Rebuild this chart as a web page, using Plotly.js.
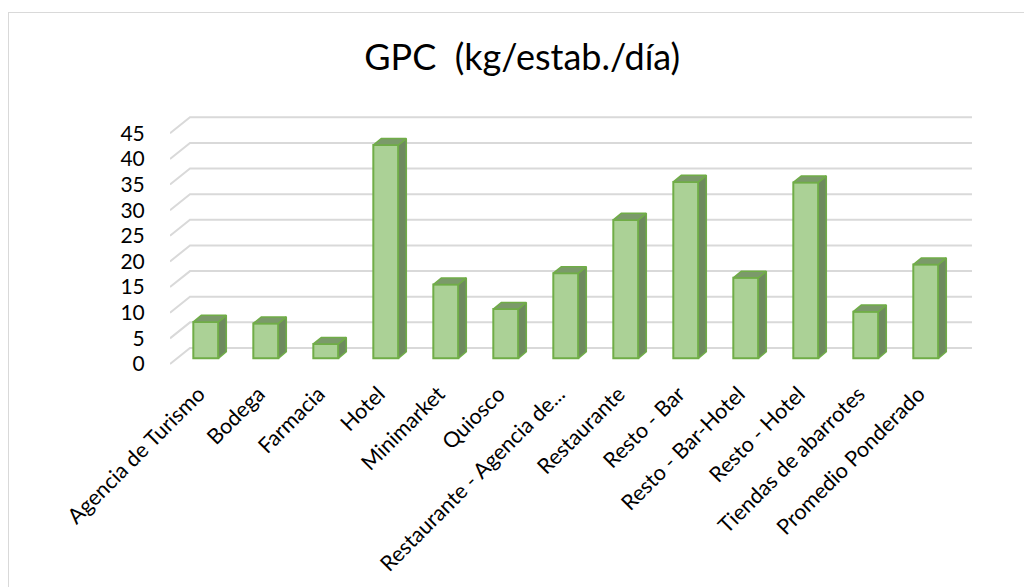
<!DOCTYPE html>
<html>
<head>
<meta charset="utf-8">
<script src="https://cdn.plot.ly/plotly-3.0.1.min.js"></script>
<style>
  html, body { margin: 0; padding: 0; background: #fff; }
  #chart { width: 1024px; height: 587px; }
  #frame { position: absolute; left: 8px; top: 12px; width: 1100px; height: 700px;
           border-left: 1.5px solid #d9d9d9; border-top: 1.5px solid #d9d9d9; pointer-events: none; }
</style>
</head>
<body>
<div id="chart"></div>
<div id="frame"></div>
<script>
// ---- data ----
const categories = [
  "Agencia de Turismo", "Bodega", "Farmacia", "Hotel", "Minimarket", "Quiosco",
  "Restaurante - Agencia de...", "Restaurante", "Resto - Bar", "Resto - Bar-Hotel",
  "Resto - Hotel", "Tiendas de abarrotes", "Promedio Ponderado"
];
const gpcValues = [7.1, 6.8, 2.8, 41.6, 14.4, 9.6, 16.6, 27.0, 34.4, 15.7, 34.3, 9.1, 18.3];
const yTickValues = [0, 5, 10, 15, 20, 25, 30, 35, 40, 45];
const titleText = "GPC\u00a0 (kg/estab./día)";

// ---- pseudo-3D geometry (axis units) ----
const wallDX = 0.3333, wallDY = 3.12;      // depth of floor / side wall
const floorLeft = -0.478, floorRight = 12.555;
const barShift = 0.119, barHalf = 0.2083, barBase = 1.11;
const barDX = 0.1333, barDY = 1.28;

const idx = categories.map((_, i) => i);

// gridlines on side + back wall
const shapes = yTickValues.map(v => ({
  type: 'path', xref: 'x', yref: 'y', layer: 'below',
  path: `M ${floorLeft},${v} L ${floorLeft + wallDX},${v + wallDY} L ${floorRight + wallDX},${v + wallDY}`,
  line: { color: '#d9d9d9', width: 2 }
}));

// top and side faces of the columns
const topX = [], topY = [], sideX = [], sideY = [];
gpcValues.forEach((v, i) => {
  const xl = i + barShift - barHalf, xr = i + barShift + barHalf;
  const top = barBase + v;
  topX.push(xl, xr, xr + barDX, xl + barDX, xl, null);
  topY.push(top, top, top + barDY, top + barDY, top, null);
  sideX.push(xr, xr + barDX, xr + barDX, xr, xr, null);
  sideY.push(barBase, barBase + barDY, top + barDY, top, barBase, null);
});

const traces = [
  {
    type: 'bar', x: idx, y: gpcValues, base: barBase,
    offset: barShift - barHalf, width: 2 * barHalf,
    marker: { color: '#abd196', line: { color: '#70ad47', width: 2 } },
    hoverinfo: 'skip', showlegend: false
  },
  {
    type: 'scatter', mode: 'lines', x: sideX, y: sideY, fill: 'toself',
    fillcolor: '#6e8a5f', line: { color: '#70ad47', width: 1.5 },
    hoverinfo: 'skip', showlegend: false, cliponaxis: false
  },
  {
    type: 'scatter', mode: 'lines', x: topX, y: topY, fill: 'toself',
    fillcolor: '#7b9a6a', line: { color: '#70ad47', width: 1.5 },
    hoverinfo: 'skip', showlegend: false, cliponaxis: false
  }
];

const layout = {
  width: 1024, height: 587,
  margin: { l: 170, r: 52, t: 113, b: 220, pad: 0 },
  paper_bgcolor: '#ffffff', plot_bgcolor: 'rgba(0,0,0,0)',
  font: { family: 'Lato, sans-serif', color: '#000000', size: 21 },
  title: {
    text: titleText, font: { family: 'Lato, sans-serif', size: 36, color: '#000000' },
    xref: 'container', x: 0.51, xanchor: 'center',
    yref: 'container', y: 1 - 57 / 587, yanchor: 'middle'
  },
  xaxis: {
    range: [-0.478, 12.889], showgrid: false, zeroline: false, showline: false,
    tickmode: 'array', tickvals: idx, ticktext: categories, tickangle: -45,
    ticks: 'outside', ticklen: 5, tickcolor: 'rgba(0,0,0,0)',
    tickfont: { family: 'Lato, sans-serif', size: 21.5, color: '#000000' }
  },
  yaxis: {
    range: [-0.585, 48.955], showgrid: false, zeroline: false, showline: false,
    tickmode: 'array', tickvals: yTickValues, ticks: 'outside', ticklen: 20,
    tickcolor: 'rgba(0,0,0,0)',
    tickfont: { family: 'Lato, sans-serif', size: 21, color: '#000000' }
  },
  shapes: shapes,
  bargap: 0
};

Plotly.newPlot('chart', traces, layout, { staticPlot: true, displayModeBar: false });
</script>
</body>
</html>
